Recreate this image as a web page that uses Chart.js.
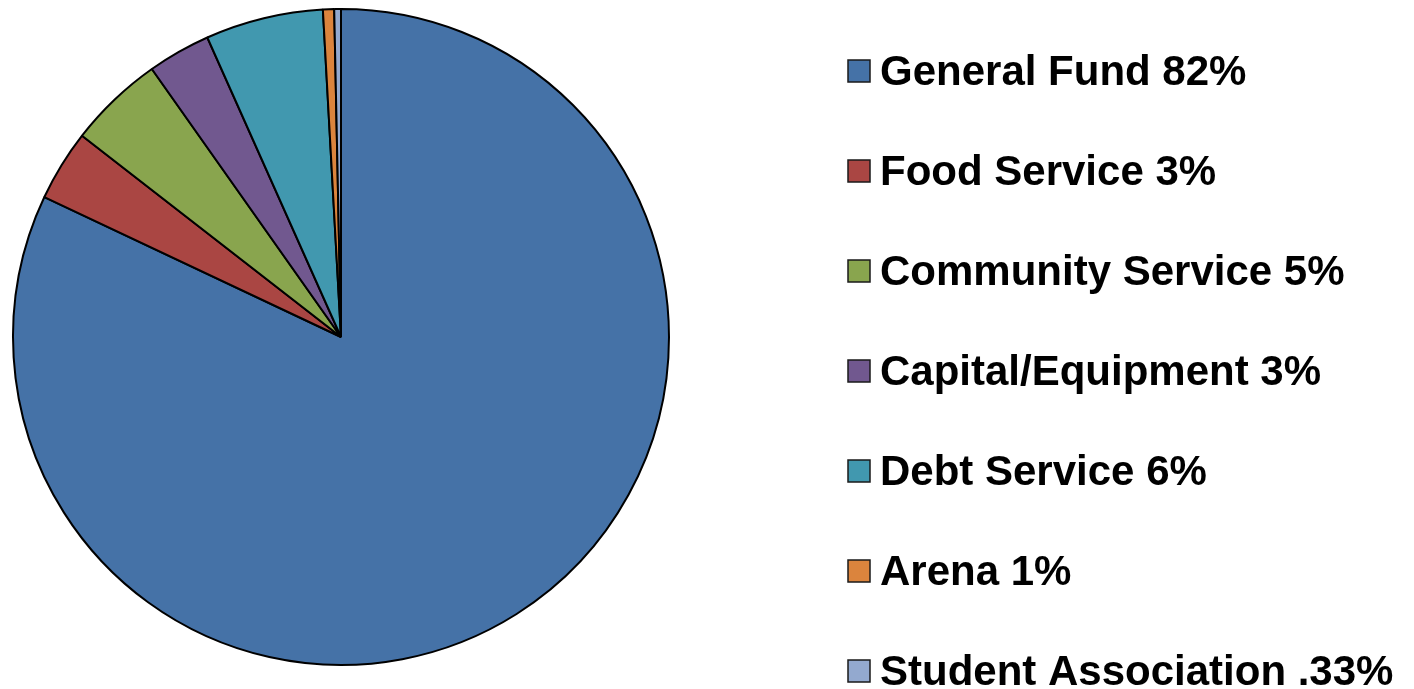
<!DOCTYPE html>
<html>
<head>
<meta charset="utf-8">
<script src="https://cdn.jsdelivr.net/npm/chart.js@4"></script>
<style>
  html, body { margin: 0; padding: 0; background: #fff; }
  #wrap { width: 1414px; height: 689px; }
</style>
</head>
<body>
<div id="wrap"><canvas id="myChart"></canvas></div>
<script>
// data
const categories = ['General Fund', 'Food Service', 'Community Service', 'Capital/Equipment', 'Debt Service', 'Arena', 'Student Association'];
const shares = [82, 3.5, 4.7, 3.1, 5.8, 0.55, 0.33];
const legendText = ['General Fund 82%', 'Food Service 3%', 'Community Service 5%', 'Capital/Equipment 3%', 'Debt Service 6%', 'Arena 1%', 'Student Association .33%'];
const colors = ['#4572A7', '#AA4643', '#89A54E', '#71588F', '#4198AF', '#DB843D', '#93A9CF'];

/* legend drawn by hand so box/gap/spacing match the original */
const sideLegend = {
  id: 'sideLegend',
  afterDraw(chart) {
    const ctx = chart.ctx;
    ctx.save();
    ctx.font = 'bold 42px "Liberation Sans", Arial, sans-serif';
    ctx.textBaseline = 'alphabetic';
    ctx.textAlign = 'left';
    for (let i = 0; i < legendText.length; i++) {
      const top = 60 + i * 100;
      ctx.fillStyle = colors[i];
      ctx.fillRect(848, top, 22, 22);
      ctx.lineWidth = 1.5;
      ctx.strokeStyle = '#1a1a1a';
      ctx.strokeRect(848, top, 22, 22);
      ctx.fillStyle = '#000';
      ctx.fillText(legendText[i], 880, top + 25);
    }
    ctx.restore();
  }
};

const ctx = document.getElementById('myChart').getContext('2d');
const myChart = new Chart(ctx, {
  type: 'pie',
  data: {
    labels: categories,
    datasets: [{
      data: shares,
      backgroundColor: colors,
      borderColor: '#000',
      borderWidth: 2
    }]
  },
  options: {
    responsive: true,
    maintainAspectRatio: false,
    animation: false,
    layout: {
      padding: { left: 12, right: 744, top: 8, bottom: 23 }
    },
    plugins: {
      legend: { display: false },
      tooltip: { enabled: false }
    }
  },
  plugins: [sideLegend]
});
</script>
</body>
</html>
